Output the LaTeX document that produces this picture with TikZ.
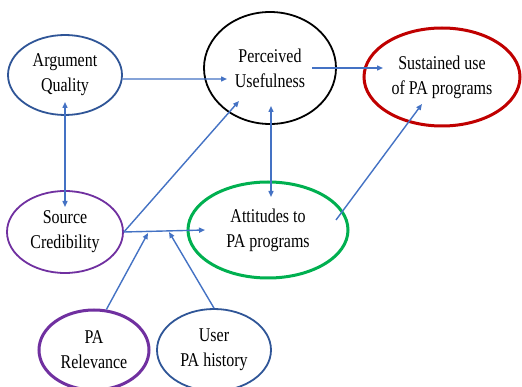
\documentclass[tikz,border=0pt]{standalone}
\usepackage{fontspec}
\setmainfont{Liberation Serif}[FakeStretch=0.82]
\usetikzlibrary{shapes.geometric,arrows.meta}
\definecolor{arrblue}{HTML}{4472C4}
\definecolor{dkblue}{HTML}{2F5597}
\definecolor{purp}{HTML}{7030A0}
\definecolor{grn}{HTML}{00B050}
\definecolor{dred}{HTML}{C00000}
\begin{document}
\begin{tikzpicture}[x=1pt,y=-1pt,
  ell/.style={ellipse,draw,inner sep=0pt,align=center,font=\fontsize{19.5}{25}\selectfont},
  arr/.style={draw=arrblue,line width=1.4pt,-{Triangle[length=6pt,width=5pt]}},
  darr/.style={draw=arrblue,line width=1.4pt,{Triangle[length=6pt,width=5pt]}-{Triangle[length=6pt,width=5pt]}}]
\useasboundingbox[fill=white] (0,0) rectangle (522,387);
\node[ell,draw=dkblue,line width=1.8pt,minimum width=114pt,minimum height=80pt] (aq) at (65,75) {Argument\\Quality};
\node[ell,draw=black,line width=1.8pt,minimum width=132pt,minimum height=112pt] (pu) at (270,68) {Perceived\\Usefulness};
\node[ell,draw=dred,line width=3pt,minimum width=156pt,minimum height=98pt] (su) at (442,77) {Sustained use\\of PA programs};
\node[ell,draw=purp,line width=1.8pt,minimum width=116pt,minimum height=82pt] (sc) at (65,232) {Source\\Credibility};
\node[ell,draw=grn,line width=3pt,minimum width=160pt,minimum height=96pt] (at) at (268,230) {Attitudes to\\PA programs};
\node[ell,draw=purp,line width=3pt,minimum width=110pt,minimum height=80pt] (pr) at (94,350) {PA\\Relevance};
\node[ell,draw=dkblue,line width=1.8pt,minimum width=114pt,minimum height=82pt] (uh) at (214,350) {User\\PA history};
% connector ends
\coordinate (aqpu) at (227,79);
\coordinate (aqin) at (65,102);
\coordinate (scin) at (65,207);
\coordinate (puin) at (271,106);
\coordinate (atin) at (271,197);
\coordinate (puout) at (312,68);
\coordinate (suin) at (383,68);
\coordinate (pusc) at (239,101);
\coordinate (atsc) at (205,230);
\coordinate (j1) at (148,233);
\coordinate (j2) at (169,232);
\coordinate (atout) at (336,220);
\coordinate (suat) at (422,104);
\draw[arr] (aq.-4) -- (aqpu);
\draw[darr] (aqin) -- (scin);
\draw[darr] (puin) -- (atin);
\draw[arr] (puout) -- (suin);
\draw[arr] (sc.east) -- (pusc);
\draw[arr] (sc.east) -- (atsc);
\draw[arr] (pr.73) -- (j1);
\draw[arr] (uh.north) -- (j2);
\draw[arr] (atout) -- (suat);
\end{tikzpicture}
\end{document}
